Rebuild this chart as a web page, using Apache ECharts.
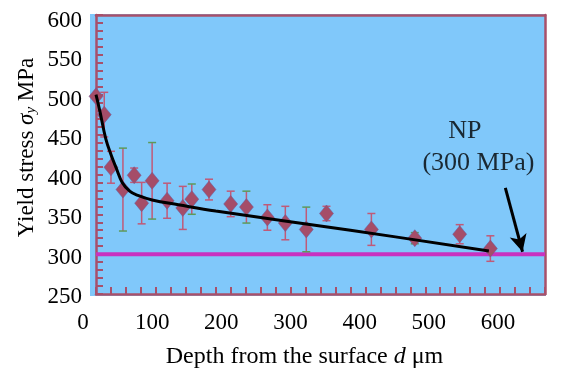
<!DOCTYPE html>
<html>
<head>
<meta charset="utf-8">
<script src="https://cdn.jsdelivr.net/npm/echarts@6/dist/echarts.min.js"></script>
<style>
  html, body { margin: 0; padding: 0; background: #fff; }
  #chart { width: 574px; height: 371px; }
</style>
</head>
<body>
<div id="chart"></div>
<script>
// measured points (depth in um, yield stress in MPa, +/- error)
const depth = [0, 11, 20, 36, 51, 61, 75, 95, 116, 128, 151, 180, 201, 229, 253, 281, 308, 368, 426, 486, 527];
const stress = [498, 475, 409, 381, 399, 364, 392, 367, 358, 369, 381, 363, 359, 346, 339, 331, 351, 331, 320, 325, 307];
const errs = [0, 28, 20, 52, 9, 26, 48, 22, 27, 19, 13, 16, 20, 16, 21, 28, 9, 20, 7, 12, 16];

// fitted curve
const fitDepth = [0, 5, 13, 20, 27, 35, 45, 55, 75, 110, 160, 340, 525];
const fitStress = [500, 480, 445, 425, 408, 390, 379, 374, 368, 362, 354, 330, 304];

// non-peened level
const npLevel = 300;
const xTicks = [0, 600, 100];
const yTicks = [250, 600, 50];

// annotation
const arrowFrom = [547, 383];
const arrowTo = [570, 303];
const npTextAt = [493, 454];
const npValueAt = [511, 414];

const serif = "'Liberation Serif', 'Times New Roman', serif";
const frame = '#a8506a';

const chart = echarts.init(document.getElementById('chart'));

const plotAxis = {
  type: 'value', gridIndex: 1,
  axisLine: { show: true, lineStyle: { color: frame, width: 2.5 } },
  axisTick: { show: true, inside: true, length: 7, lineStyle: { color: frame, width: 2 } },
  minorTick: { show: true, splitNumber: 5, length: 7, lineStyle: { color: frame, width: 2 } },
  axisLabel: { show: false },
  splitLine: { show: false }
};

const bareAxis = {
  type: 'value',
  axisLine: { show: false }, axisTick: { show: false }, splitLine: { show: false }
};

// top and right edges of the frame
const edgeAxis = {
  type: 'value', gridIndex: 1,
  axisLine: { show: true, onZero: false, lineStyle: { color: frame, width: 2.5 } },
  axisTick: { show: false }, axisLabel: { show: false }, splitLine: { show: false }
};

const option = {
  animation: false,
  grid: [
    // blue fill, a little larger than the frame
    { left: 90, right: 28, top: 14, bottom: 75, show: false, outerBoundsMode: 'none', containLabel: false },
    // plot area
    { left: 96, right: 29, top: 15, bottom: 77, show: false, outerBoundsMode: 'none', containLabel: false },
    // tick labels sit slightly off the ticks in the original
    { left: 83, right: 76, top: 21, bottom: 74, show: false, outerBoundsMode: 'none', containLabel: false }
  ],
  xAxis: [
    Object.assign({}, bareAxis, {
      gridIndex: 0, min: 0, max: 1,
      axisLabel: { show: false },
      splitArea: { show: true, areaStyle: { color: ['#80c8fa'] } }
    }),
    Object.assign({}, plotAxis, { min: xTicks[0], max: xTicks[1], interval: xTicks[2] }),
    Object.assign({}, bareAxis, {
      gridIndex: 2, min: xTicks[0], max: xTicks[1], interval: xTicks[2],
      axisLabel: { color: '#000', fontFamily: serif, fontSize: 23, margin: 14 },
      name: '{n|Depth from the surface }{i|d}{n| μm}',
      nameLocation: 'middle', nameGap: 48,
      nameTextStyle: {
        padding: [0, 0, 0, 28],
        rich: {
          n: { fontFamily: serif, fontSize: 24, color: '#000' },
          i: { fontFamily: serif, fontSize: 24, color: '#000', fontStyle: 'italic' }
        }
      }
    }),
    Object.assign({}, edgeAxis, { position: 'top', min: xTicks[0], max: xTicks[1] })
  ],
  yAxis: [
    Object.assign({}, bareAxis, { gridIndex: 0, min: 0, max: 1, axisLabel: { show: false } }),
    Object.assign({}, plotAxis, {
      min: yTicks[0], max: yTicks[1], interval: yTicks[2],
      name: '{n|Yield stress }{s|σ}{b|y}{n| MPa}',
      nameLocation: 'middle', nameRotate: 90, nameGap: 57,
      nameTextStyle: {
        padding: [0, 0, 0, 14],
        rich: {
          n: { fontFamily: serif, fontSize: 23, color: '#000' },
          s: { fontFamily: serif, fontSize: 23, color: '#000', fontStyle: 'italic' },
          b: { fontFamily: serif, fontSize: 15, color: '#000', fontStyle: 'italic', verticalAlign: 'bottom', padding: [10, 0, 0, 0] }
        }
      }
    }),
    Object.assign({}, bareAxis, {
      gridIndex: 2, min: yTicks[0], max: yTicks[1], interval: yTicks[2],
      axisLabel: { color: '#000', fontFamily: serif, fontSize: 23, margin: 1 }
    }),
    Object.assign({}, edgeAxis, { position: 'right', min: yTicks[0], max: yTicks[1] })
  ],
  series: [
    {
      type: 'line', xAxisIndex: 1, yAxisIndex: 1,
      data: [[xTicks[0], npLevel], [xTicks[1], npLevel]],
      symbol: 'none',
      lineStyle: { color: '#c832c0', width: 4 },
      z: 2
    },
    {
      type: 'custom', xAxisIndex: 1, yAxisIndex: 1,
      data: depth.map((d, i) => [d, stress[i] - errs[i], stress[i] + errs[i]]),
      renderItem: (params, api) => {
        const lo = api.coord([api.value(0), api.value(1)]);
        const hi = api.coord([api.value(0), api.value(2)]);
        const w = 4;
        const st = { stroke: '#c05a78', lineWidth: 1.5 };
        const cap = { stroke: params.dataIndex % 3 === 0 ? '#5c9a5a' : '#c05a78', lineWidth: 1.5 };
        return {
          type: 'group',
          children: [
            { type: 'line', shape: { x1: lo[0], y1: lo[1], x2: hi[0], y2: hi[1] }, style: st },
            { type: 'line', shape: { x1: lo[0] - w, y1: lo[1], x2: lo[0] + w, y2: lo[1] }, style: cap },
            { type: 'line', shape: { x1: hi[0] - w, y1: hi[1], x2: hi[0] + w, y2: hi[1] }, style: cap }
          ]
        };
      },
      z: 3
    },
    {
      type: 'scatter', xAxisIndex: 1, yAxisIndex: 1,
      data: depth.map((d, i) => [d, stress[i]]),
      symbol: 'diamond', symbolSize: [14, 17],
      itemStyle: { color: '#a54d68', borderColor: '#6a5a9a', borderWidth: 0.5, opacity: 1 },
      z: 4
    },
    {
      type: 'line', xAxisIndex: 1, yAxisIndex: 1,
      data: fitDepth.map((d, i) => [d, fitStress[i]]),
      smooth: 0.4, symbol: 'none',
      lineStyle: { color: '#000', width: 3 },
      z: 5
    },
    {
      type: 'scatter', xAxisIndex: 1, yAxisIndex: 1,
      data: [
        { value: npTextAt, label: { formatter: 'NP' } },
        { value: npValueAt, label: { formatter: '(300 MPa)' } }
      ],
      symbolSize: 0,
      label: { show: true, position: 'inside', color: '#000', fontFamily: serif, fontSize: 26 },
      markLine: {
        silent: true,
        symbol: ['none', 'arrow'],
        symbolSize: [13, 17],
        lineStyle: { color: '#000', width: 3, type: 'solid' },
        label: { show: false },
        data: [[{ coord: arrowFrom }, { coord: arrowTo }]]
      },
      z: 7
    }
  ]
};

chart.setOption(option);
</script>
</body>
</html>
